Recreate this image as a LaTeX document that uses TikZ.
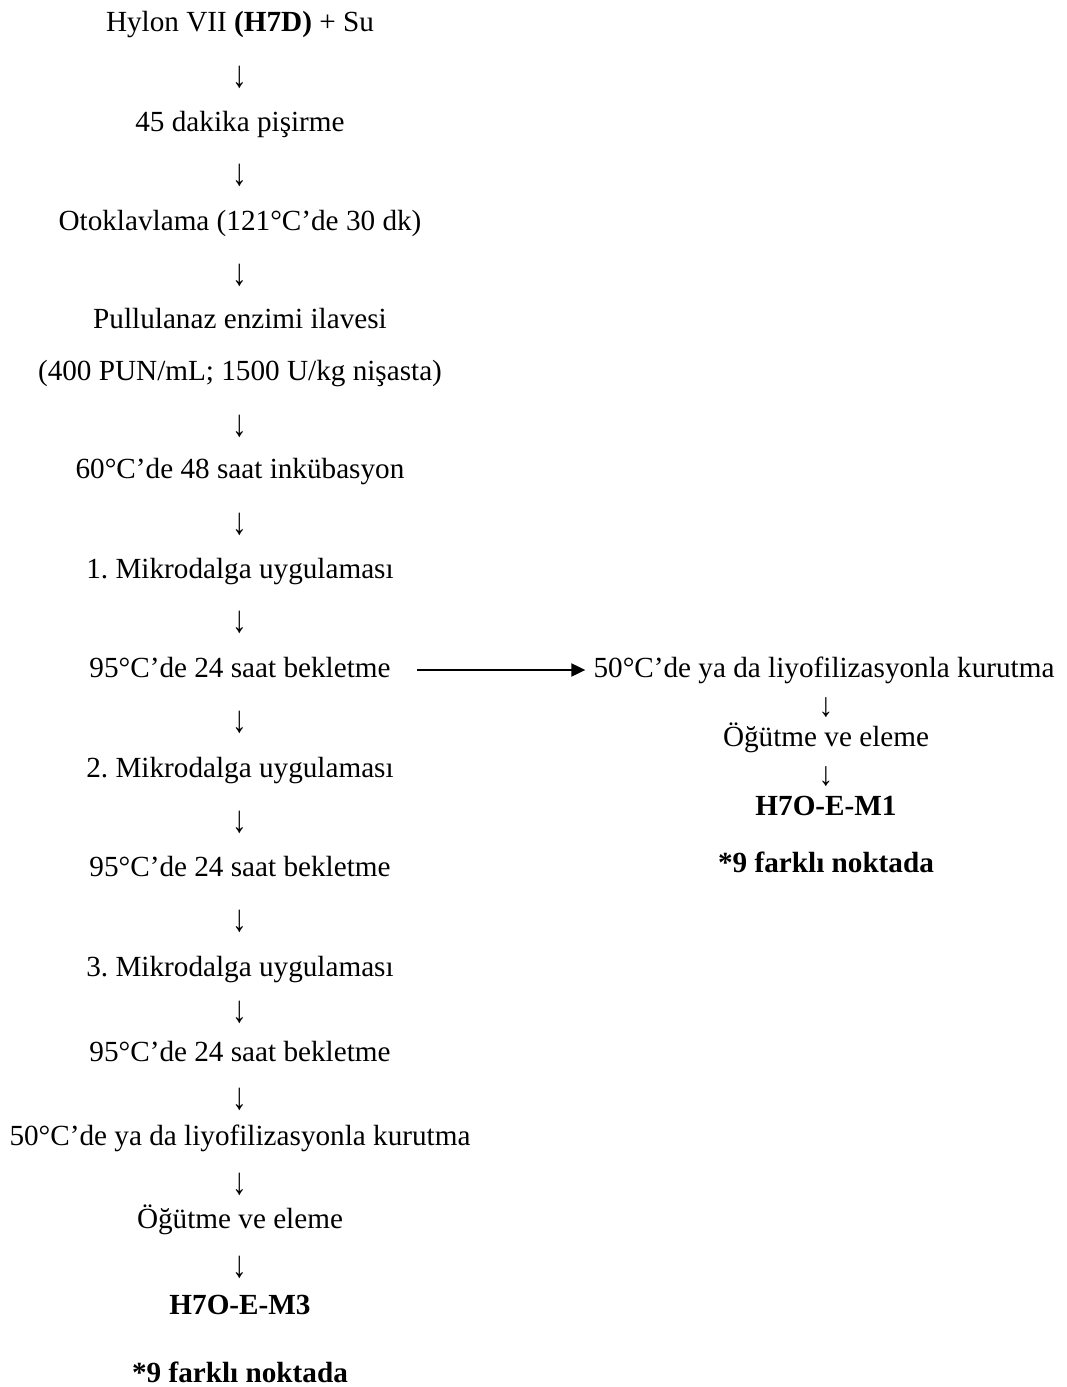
\documentclass[tikz,border=0pt]{standalone}
\usepackage{fontspec}
\setmainfont{Liberation Serif}
\usetikzlibrary{arrows.meta}
\frenchspacing

\begin{document}
\begin{tikzpicture}[x=1pt, y=-1pt,
	satir/.style={inner sep=0pt, anchor=base, text height=20pt, text depth=6pt, font=\fontsize{29.2}{35}\selectfont},
	ok/.style={inner sep=0pt, font=\fontsize{29.2}{35}\selectfont}]
	\useasboundingbox (0,0) rectangle (1066,1387);

	% ana sutun
	\node[satir] (s1) at (240,31.7) {Hylon VII \textbf{(H7D)} + Su};
	\node[satir] (s2) at (240,131.7) {45 dakika pişirme};
	\node[satir] (s3) at (240,230) {Otoklavlama (121°C’de 30 dk)};
	\node[satir] (s4) at (240,328) {Pullulanaz enzimi ilavesi};
	\node[satir] (s5) at (240,380) {(400 PUN/mL; 1500 U/kg nişasta)};
	\node[satir] (s6) at (240,478) {60°C’de 48 saat inkübasyon};
	\node[satir] (m1) at (240,578) {1. Mikrodalga uygulaması};
	\node[satir] (b1) at (240,677) {95°C’de 24 saat bekletme};
	\node[satir] (m2) at (240,777) {2. Mikrodalga uygulaması};
	\node[satir] (b2) at (240,876) {95°C’de 24 saat bekletme};
	\node[satir] (m3) at (240,976) {3. Mikrodalga uygulaması};
	\node[satir] (b3) at (240,1061) {95°C’de 24 saat bekletme};
	\node[satir] (s7) at (240,1145) {50°C’de ya da liyofilizasyonla kurutma};
	\node[satir] (s8) at (240,1228) {Öğütme ve eleme};
	\node[satir] (s9) at (240,1314) {\textbf{H7O-E-M3}};
	\node[satir] (s10) at (240,1382) {\textbf{*9 farklı noktada}};

	\foreach \y [count=\i] in {77,175,275,426,524,622.5,722.5,822,921,1012,1099,1184,1267.5}{
		\node[ok] (ok\i) at (240,\y) {\scalebox{1}[1.3]{↓}};
	}

	% yan kol
	\node[satir] (k1) at (824,677) {50°C’de ya da liyofilizasyonla kurutma};
	\node[ok] (ok14) at (826,708) {\scalebox{1}[1.15]{↓}};
	\node[satir] (k2) at (826,746) {Öğütme ve eleme};
	\node[ok] (ok15) at (826,777) {\scalebox{1}[1.15]{↓}};
	\node[satir] (k3) at (826,815) {\textbf{H7O-E-M1}};
	\node[satir] (k4) at (826,872) {\textbf{*9 farklı noktada}};

	\draw[-{Triangle[length=14pt,width=13pt]}, line width=2pt, shorten <=26pt, shorten >=8pt] (b1.east) -- (k1.west);
\end{tikzpicture}
\end{document}
